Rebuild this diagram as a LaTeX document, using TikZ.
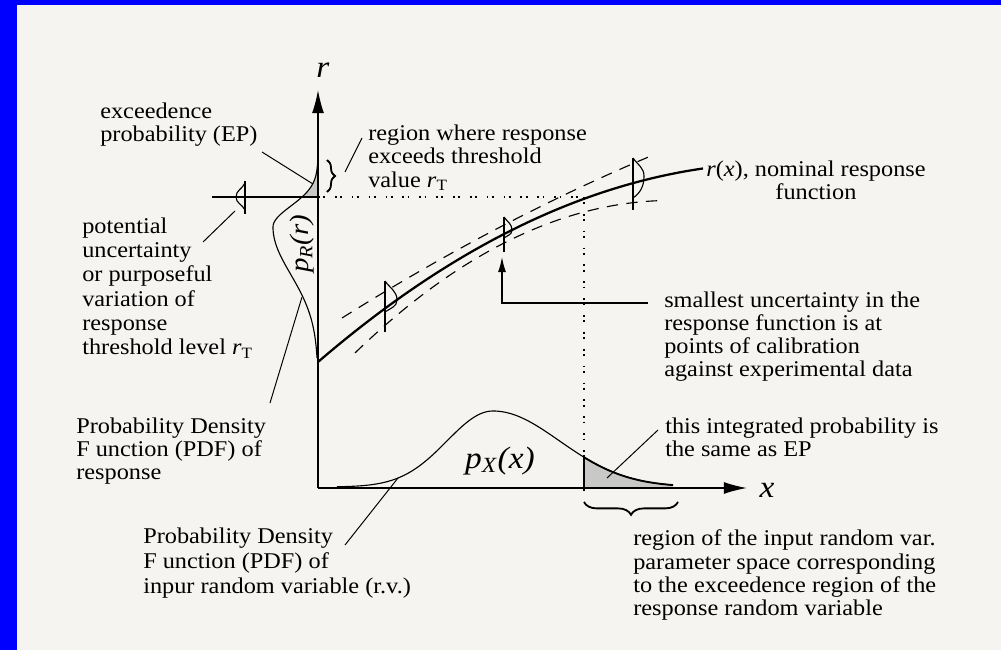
\documentclass[tikz,border=0pt]{standalone}
\usepackage{fontspec}
\setmainfont[FakeStretch=1.08]{Liberation Serif}
\usepackage{tikz}
\usetikzlibrary{arrows.meta,decorations.pathreplacing}
\definecolor{paperBg}{RGB}{245,244,240}
\definecolor{frameBlue}{RGB}{0,0,255}
\definecolor{tailGray}{RGB}{200,200,198}
\newcommand{\rT}{\textit{r}\textsubscript{T}}

\begin{document}
\begin{tikzpicture}[x=0.025cm, y=-0.025cm,
  declare function={
    rnom(\t)=362-0.861*(\t-318)+0.000928*(\t-318)*(\t-318);
    bw(\t)=9+0.0006*(\t-500)*(\t-500);
    pxl(\t)=487-76*exp(-((\t-493)/65)*((\t-493)/65));
    pxr(\t)=487-76*exp(-((\t-493)/94)*((\t-493)/94));
    pru(\t)=318-45*exp(-((\t-227)/29.5)*((\t-227)/29.5));
    prd(\t)=318-45*exp(-((\t-227)/67)*((\t-227)/67));
  },
  lbl/.style={font=\fontsize{16}{16.4}\selectfont, align=left, inner sep=0pt, anchor=west},
  sym/.style={font=\fontsize{22}{26}\selectfont, inner sep=0pt},
  leader/.style={line width=0.7pt},
  axisline/.style={line width=1pt, -{Latex[length=0.58cm, width=0.3cm]}},
  band/.style={line width=0.8pt, dash pattern=on 8pt off 6pt},
  guide/.style={line width=0.8pt, dash pattern=on 1.2pt off 2.6pt on 1.2pt off 7pt},
  curly/.style={decorate, line width=1.3pt, decoration={brace, amplitude=#1}},
]
%
\useasboundingbox (0,0) rectangle (1001,650);
\fill[paperBg] (0,0) rectangle (1001,650);
\fill[frameBlue] (0,0) rectangle (17,650);
\fill[frameBlue] (0,0) rectangle (1001,5);

% shaded tails
\fill[tailGray] (318,158) -- plot[domain=158:197, samples=30] ({pru(\x)},\x) -- (318,197) -- cycle;
\fill[tailGray] (584,487) -- plot[domain=584:673, samples=40] (\x,{pxr(\x)}) -- (673,487) -- cycle;

% axes
\coordinate (origin) at (318,488);
\coordinate (rTip) at (318,90);
\coordinate (xTip) at (747,488);
\draw[axisline] (origin) -- (rTip);
\draw[axisline] (origin) -- (xTip);
\node[sym] (rLbl) at (323,70) {\textit{r}};
\node[sym] (xLbl) at (767,490) {\textit{x}};

% threshold
\coordinate (thrL) at (212,197);
\coordinate (thrA) at (318,197);
\coordinate (thrC) at (580,197);
\draw[line width=0.9pt] (thrL) -- (thrA);
\draw[guide] (thrA) -- (thrC);
\draw[guide] (584,197) -- (584,500);
\draw[line width=0.8pt] (245,181) -- (245,214);
\draw[line width=0.8pt] (245,183) to[out=-115,in=90] (236,197) to[out=-90,in=115] (245,210);

% p_R
\draw[line width=0.8pt] plot[domain=158:227, samples=40] ({pru(\x)},\x) -- plot[domain=227:358, samples=60] ({prd(\x)},\x);
\node[sym, font=\fontsize{19}{22}\selectfont, rotate=90] (prLbl) at (302,244) {\textit{p}\textsubscript{\textit{R}}\textit{(r)}};

% p_X
\draw[line width=0.8pt] plot[domain=337:493, samples=60] (\x,{pxl(\x)}) -- plot[domain=493:673, samples=60] (\x,{pxr(\x)});
\draw[line width=1.3pt] plot[domain=584:673, samples=40] (\x,{pxr(\x)});
\draw[line width=0.9pt] (584,488) -- (584,{pxr(584)});
\node[sym] (pxLbl) at (500,461) {\textit{p}\textsubscript{\textit{X}}\textit{(x)}};

% response and band
\draw[line width=1.6pt] plot[domain=318:703, samples=80] (\x,{rnom(\x)});
\draw[band] plot[domain=342:652, samples=80] (\x,{rnom(\x)-bw(\x)});
\draw[band] plot[domain=355:662, samples=80] (\x,{rnom(\x)+bw(\x)});
\foreach \mx/\mt/\mb/\mw/\my/\mr in {385/281/332/12/300/312, 504/217/252/8/230/238, 633/158/210/11/176/198}{
  \draw[line width=0.8pt] (\mx,\mt) -- (\mx,\mb);
  \draw[line width=0.8pt] (\mx,\mt) to[out=-55,in=90] ({\mx+\mw},\my) to[out=-90,in=35] (\mx,\mr);
}

% braces
\draw[curly=0.2cm] (327,160) -- (327,192);
\draw[curly=0.32cm] (678,502) -- (584,502);

% labels
\node[lbl] (epLbl) at (100,125) {exceedence\\probability (EP)};
\node[lbl, font=\fontsize{16}{17.2}\selectfont] (potLbl) at (82,288) {potential\\uncertainty\\or purposeful\\variation of\\response\\threshold level \rT};
\node[lbl] (pdfRLbl) at (76,451) {Probability Density\\F unction (PDF) of\\response};
\node[lbl, font=\fontsize{16}{17.5}\selectfont] (pdfXLbl) at (143,563) {Probability Density\\F unction (PDF) of\\inpur random variable (r.v.)};
\node[lbl] (regLbl) at (368,158) {region where response\\exceeds threshold\\value \rT};
\node[lbl, align=center] (nomLbl) at (706,180) {\textit{r}(\textit{x}), nominal response\\function};
\node[lbl] (calLbl) at (664,337) {smallest uncertainty in the\\response function is at\\points of calibration\\against experimental data};
\node[lbl] (intLbl) at (665,437) {this integrated probability is\\the same as EP};
\node[lbl] (spaceLbl) at (633,575) {region of the input random var.\\parameter space corresponding\\to the exceedence region of the\\response random variable};

% leaders
\coordinate (epFoot) at (262,152);
\coordinate (epTip) at (313,184);
\coordinate (potFoot) at (203,242);
\coordinate (potTip) at (235,211);
\coordinate (pdfRFoot) at (270,403);
\coordinate (pdfRTip) at (302,297);
\coordinate (pdfXFoot) at (345,545);
\coordinate (pdfXTip) at (398,478);
\coordinate (regFoot) at (345,172);
\coordinate (regTip) at (362,138);
\coordinate (intFoot) at (658,430);
\coordinate (intTip) at (607,478);
\coordinate (calFoot) at (648,303);
\coordinate (calTip) at (502,257);
\draw[leader] (epFoot) -- (epTip);
\draw[leader] (potFoot) -- (potTip);
\draw[leader] (pdfRFoot) -- (pdfRTip);
\draw[leader] (pdfXFoot) -- (pdfXTip);
\draw[leader] (regFoot) -- (regTip);
\draw[leader] (intFoot) -- (intTip);
\draw[line width=0.9pt, -{Latex[length=0.38cm, width=0.2cm]}] (calFoot) -| (calTip);
\end{tikzpicture}
\end{document}
